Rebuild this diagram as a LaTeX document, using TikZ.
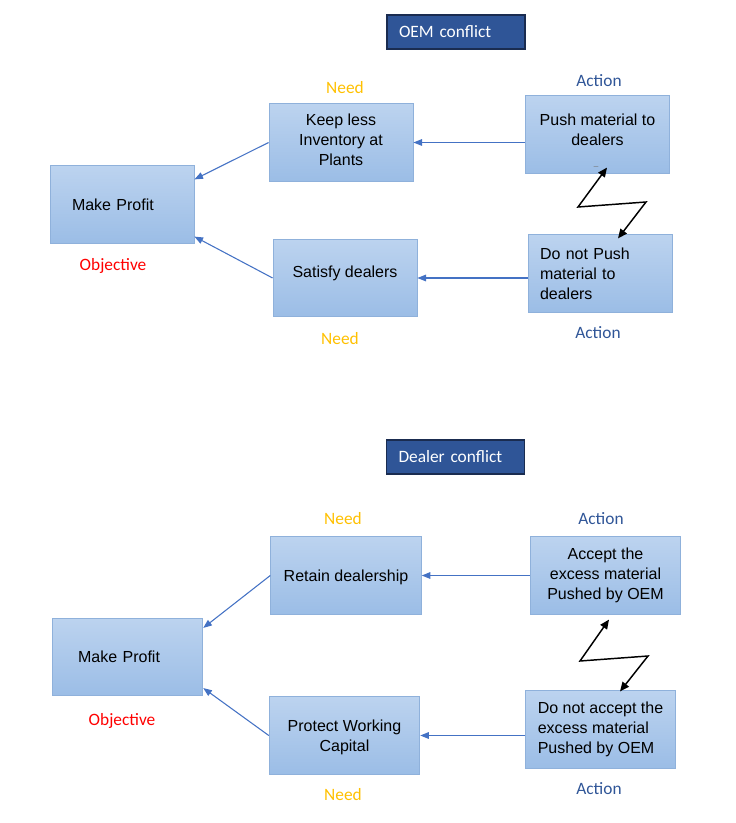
\documentclass[tikz,border=0pt]{standalone}
\usepackage{fontspec}
\setmainfont{Liberation Sans}
\newfontfamily\labfont{Carlito}
\usetikzlibrary{arrows.meta,calc}
\definecolor{boxtop}{HTML}{BCD3EF}
\definecolor{boxbot}{HTML}{9BBDE6}
\definecolor{boxline}{HTML}{8FB1DB}
\definecolor{arrblue}{HTML}{4472C4}
\definecolor{titlefill}{HTML}{2F5597}
\definecolor{titleline}{HTML}{1A2C50}
\definecolor{needcol}{HTML}{FFC000}
\definecolor{actcol}{HTML}{2F5597}
\definecolor{objcol}{HTML}{FF0000}
\tikzset{
  box/.style={draw=boxline, line width=0.6pt, top color=boxtop, bottom color=boxbot,
    minimum height=58pt, inner sep=0pt, align=center,
    font=\fontsize{12}{15}\selectfont},
  boxs/.style={box, minimum width=108pt},
  boxw/.style={box, minimum width=113pt},
  titlebox/.style={draw=titleline, line width=0.8pt, fill=titlefill, text=white,
    minimum height=25.5pt, inner xsep=9pt, text width=85.5pt, align=left,
    font=\labfont\fontsize{13}{15}\selectfont},
  lab/.style={font=\labfont\fontsize{13}{15}\selectfont, inner sep=0pt},
  need/.style={lab, text=needcol},
  act/.style={lab, text=actcol},
  obj/.style={lab, text=objcol},
  barrow/.style={draw=arrblue, line width=0.8pt, -{Triangle[length=6.5pt,width=5pt]}},
  zig/.style={draw=black, line width=1.1pt, {Triangle[length=7pt,width=6pt]}-{Triangle[length=7pt,width=6pt]}}
}
\begin{document}
\begin{tikzpicture}[x=0.75pt,y=-0.75pt]
\useasboundingbox (0,0) rectangle (735,823);
% ---------- OEM conflict ----------
\node[titlebox] (t1) at (456,32) {OEM conflict};
\node[boxs, text depth=4.5pt] (keep) at (341,142.5) {Keep less\\Inventory at\\Plants};
\node[boxs, text depth=7pt] (push) at (597.5,134.5) {Push material to\\dealers};
\node[inner sep=0pt, text=black!55, font=\fontsize{6}{8}\selectfont] (us) at (596,166) {\_};
\node[boxs, text width=75pt, align=left] (mp1) at (122,204.5) {Make Profit};
\node[boxs, text depth=10pt] (sat) at (345,278) {Satisfy dealers};
\node[boxs, text width=90pt, align=left] (dnp) at (600,273.5) {Do not Push\\material to\\dealers};
\node[need] (n1) at (345,88) {Need};
\node[act] (a1) at (599,81) {Action};
\node[obj] (o1) at (113,266) {Objective};
\node[need] (n2) at (340,339) {Need};
\node[act] (a2) at (598,333) {Action};
\draw[barrow] (keep.west) -- ($(mp1.north east)+(0,14)$);
\draw[barrow] (sat.west) -- ($(mp1.south east)+(0,-7)$);
\draw[barrow] (push.west |- keep.east) -- (keep.east);
\draw[barrow] (dnp.west |- sat.east) -- (sat.east);
\coordinate (z1) at (578,207);
\coordinate (z2) at (646,202);
\draw[zig] ($(push.south)+(9.5,-6)$) -- (z1) -- (z2) -- ($(dnp.north)+(18,4)$);
% ---------- Dealer conflict ----------
\node[titlebox] (t2) at (455.5,457) {Dealer conflict};
\node[boxw, text depth=0pt] (ret) at (346,575.5) {Retain dealership};
\node[boxw] (acc) at (605.5,575.5) {Accept the\\excess material\\Pushed by OEM};
\node[boxw, text width=74pt, align=left] (mp2) at (127.5,657) {Make Profit};
\node[boxw, text depth=0pt] (prot) at (344.5,735.5) {Protect Working\\Capital};
\node[boxw, align=left] (dna) at (600.5,729.5) {Do not accept the\\excess material\\Pushed by OEM};
\node[need] (n3) at (343,519) {Need};
\node[act] (a3) at (601,519) {Action};
\node[obj] (o2) at (122,721) {Objective};
\node[need] (n4) at (343,795) {Need};
\node[act] (a4) at (599,789) {Action};
\draw[barrow] (ret.west) -- ($(mp2.north east)+(0,10)$);
\draw[barrow] (prot.west) -- ($(mp2.south east)+(0,-8)$);
\draw[barrow] (acc.west |- ret.east) -- (ret.east);
\draw[barrow] (dna.west |- prot.east) -- (prot.east);
\coordinate (z3) at (580,661);
\coordinate (z4) at (648,656);
\draw[zig] ($(acc.south)+(3.5,5)$) -- (z3) -- (z4) -- ($(dna.north)+(19.5,1)$);
\end{tikzpicture}
\end{document}
